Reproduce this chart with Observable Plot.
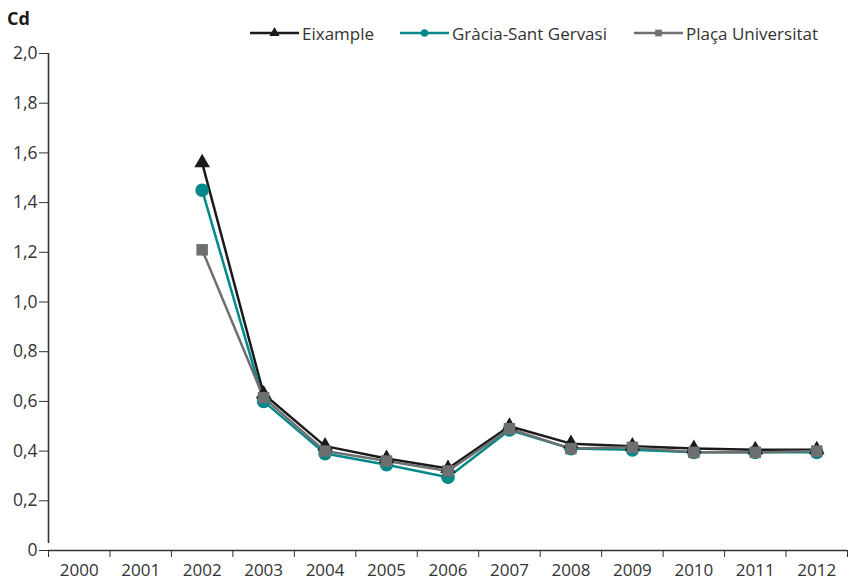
<!DOCTYPE html>
<html>
<head>
<meta charset="utf-8">
<script src="https://cdn.jsdelivr.net/npm/d3@7"></script>
<script src="https://cdn.jsdelivr.net/npm/@observablehq/plot@0.6"></script>
<style>
  body { margin: 0; background: #fff; font-family: "Open Sans", sans-serif; }
  #wrap { position: relative; width: 855px; height: 580px; }
  #title { position: absolute; left: 7px; top: 6px; font-weight: bold; font-size: 18px; color: #1a1a1a; }
  #legend { position: absolute; top: 21px; left: 0; width: 855px; height: 24px; font-size: 17px; color: #333; }
  .item { position: absolute; display: flex; align-items: center; }
  .item span { margin-left: 3px; }
  #chart { position: absolute; left: 0; top: 0; }
</style>
</head>
<body>
<div id="wrap">
  <div id="chart"></div>
  <div id="title">Cd</div>
  <div id="legend"></div>
</div>
<script>
const years = [2000, 2001, 2002, 2003, 2004, 2005, 2006, 2007, 2008, 2009, 2010, 2011, 2012];
const seriesNames = ["Eixample", "Gràcia-Sant Gervasi", "Plaça Universitat"];
const eixample = [null, null, 1.56, 0.63, 0.42, 0.37, 0.33, 0.50, 0.43, 0.42, 0.41, 0.405, 0.405];
const gracia   = [null, null, 1.45, 0.60, 0.39, 0.345, 0.295, 0.485, 0.41, 0.405, 0.395, 0.395, 0.395];
const placa    = [null, null, 1.21, 0.615, 0.40, 0.36, 0.32, 0.49, 0.41, 0.415, 0.395, 0.395, 0.40];
const yTicks = [0, 0.2, 0.4, 0.6, 0.8, 1.0, 1.2, 1.4, 1.6, 1.8, 2.0];
const colors = {"Eixample": "#1a1a1a", "Gràcia-Sant Gervasi": "#00898a", "Plaça Universitat": "#6e6f71"};
const symbols = {"Eixample": "triangle", "Gràcia-Sant Gervasi": "circle", "Plaça Universitat": "square"};
const radii = {"Eixample": 5.8, "Gràcia-Sant Gervasi": 6.8, "Plaça Universitat": 6.5};

const seriesValues = [eixample, gracia, placa];
const rows = seriesNames.flatMap((name, s) => years.map((year, i) => ({series: name, year, value: seriesValues[s][i]})));
const drawOrder = ["Gràcia-Sant Gervasi", "Eixample", "Plaça Universitat"];

const boundaries = years.map(y => y - 0.5).concat([years[years.length - 1] + 0.5]);
const fmt = d => d === 0 ? "0" : d.toFixed(1).replace(".", ",");
const axisColor = "#333";

const marks = [
  Plot.ruleY([0], {stroke: axisColor, strokeWidth: 1.6}),
  Plot.ruleX([boundaries[0]], {y1: 0, y2: 2, stroke: axisColor, strokeWidth: 1.6, insetTop: -7}),
  Plot.axisY({ticks: yTicks, tickFormat: fmt, tickSize: 9, tickPadding: 2, fontSize: 17.5, stroke: axisColor, color: axisColor, label: null}),
  Plot.axisX({ticks: boundaries, tickFormat: () => "", tickSize: 7, stroke: axisColor, label: null}),
  Plot.axisX({ticks: years, tickFormat: d => String(d), tickSize: 0, tickPadding: 13, fontSize: 17, color: axisColor, label: null}),
];
for (const name of drawOrder) {
  const d = rows.filter(r => r.series === name);
  marks.push(Plot.line(d, {x: "year", y: "value", stroke: colors[name], strokeWidth: 2.5}));
}
for (const name of drawOrder) {
  const d = rows.filter(r => r.series === name && r.value != null);
  marks.push(Plot.dot(d, {x: "year", y: "value", fill: colors[name], symbol: symbols[name], r: radii[name], stroke: "none"}));
}

const chart = Plot.plot({
  width: 855,
  height: 580,
  marginTop: 53,
  marginBottom: 30,
  marginLeft: 48,
  marginRight: 8,
  style: {fontFamily: "Open Sans, sans-serif", background: "#fff"},
  x: {type: "linear", domain: [boundaries[0], boundaries[boundaries.length - 1]], axis: null},
  y: {domain: [0, 2], axis: null},
  marks
});
document.getElementById("chart").appendChild(chart);

// Legend
const legendPos = [250, 400, 634];
const legend = document.getElementById("legend");
seriesNames.forEach((name, i) => {
  const item = document.createElement("div");
  item.className = "item";
  item.style.left = legendPos[i] + "px";
  const sw = d3.create("svg").attr("width", 49).attr("height", 24);
  sw.append("line").attr("x1", 0).attr("x2", 49).attr("y1", 12).attr("y2", 12)
    .attr("stroke", colors[name]).attr("stroke-width", 2.5);
  const sym = d3.symbol().type(symbols[name] === "triangle" ? d3.symbolTriangle : symbols[name] === "circle" ? d3.symbolCircle : d3.symbolSquare).size(45);
  sw.append("path").attr("d", sym()).attr("transform", "translate(24.5,12)").attr("fill", colors[name]);
  item.appendChild(sw.node());
  const t = document.createElement("span");
  t.textContent = name;
  item.appendChild(t);
  legend.appendChild(item);
});
</script>
</body>
</html>
